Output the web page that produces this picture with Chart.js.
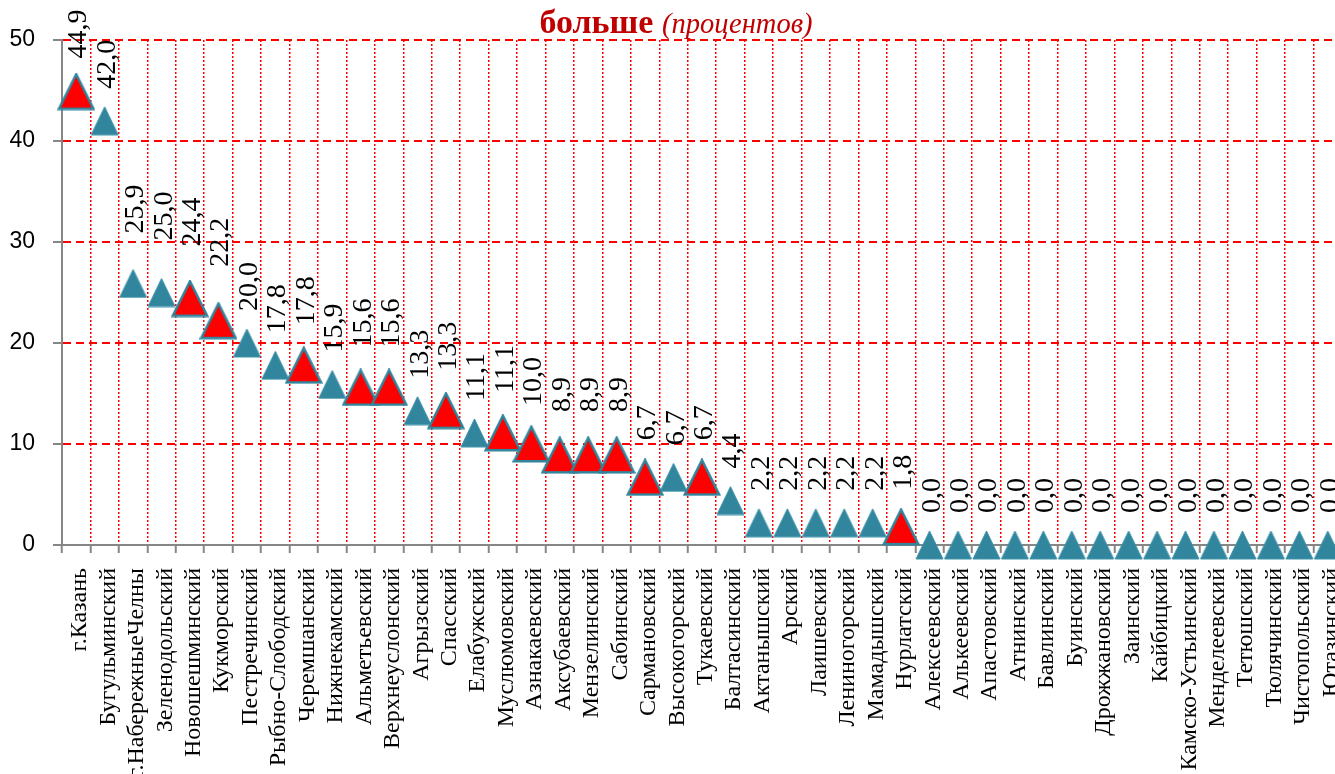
<!DOCTYPE html>
<html><head><meta charset="utf-8">
<script src="https://cdn.jsdelivr.net/npm/chart.js@4.4.0/dist/chart.umd.min.js"></script>
<style>
html,body{margin:0;padding:0;overflow:hidden;background:#fff;width:1335px;height:774px}
#wrap{position:absolute;left:0;top:0;width:1342px;height:774px}
</style></head><body>
<div id="wrap"><canvas id="c" width="1342" height="774" style="width:1342px;height:774px"></canvas></div>
<script>
const categories = ['г.Казань','Бугульминский','г.НабережныеЧелны','Зеленодольский','Новошешминский','Кукморский','Пестречинский','Рыбно-Слободский','Черемшанский','Нижнекамский','Альметьевский','Верхнеуслонский','Агрызский','Спасский','Елабужский','Муслюмовский','Азнакаевский','Аксубаевский','Мензелинский','Сабинский','Сармановский','Высокогорский','Тукаевский','Балтасинский','Актанышский','Арский','Лаишевский','Лениногорский','Мамадышский','Нурлатский','Алексеевский','Алькеевский','Апастовский','Атнинский','Бавлинский','Буинский','Дрожжановский','Заинский','Кайбицкий','Камско-Устьинский','Менделеевский','Тетюшский','Тюлячинский','Чистопольский','Ютазинский'];
const values = [44.9,42.0,25.9,25.0,24.4,22.2,20.0,17.8,17.8,15.9,15.6,15.6,13.3,13.3,11.1,11.1,10.0,8.9,8.9,8.9,6.7,6.7,6.7,4.4,2.2,2.2,2.2,2.2,2.2,1.8,0,0,0,0,0,0,0,0,0,0,0,0,0,0,0];
const highlighted = [1,0,0,0,1,1,0,0,1,0,1,1,0,1,0,1,1,1,1,1,1,0,1,0,0,0,0,0,0,1,0,0,0,0,0,0,0,0,0,0,0,0,0,0,0];
const yTicks = [0,10,20,30,40,50];
const titleBold = 'больше';
const titleItalic = '(процентов)';

const TEAL = '#31859C';
function triangle(w, h, fill, stroke, lw) {
  const c = document.createElement('canvas');
  c.width = w; c.height = h;
  const g = c.getContext('2d');
  const m = lw / 2 + 0.5;
  g.beginPath();
  g.moveTo(w / 2, m);
  g.lineTo(w - m, h - m);
  g.lineTo(m, h - m);
  g.closePath();
  g.fillStyle = fill; g.fill();
  if (lw > 0) { g.lineJoin = 'miter'; g.lineWidth = lw; g.strokeStyle = stroke; g.stroke(); }
  return c;
}
const redTri = triangle(38, 38, '#FF0000', TEAL, 2.5);
const tealTri = triangle(29, 30, TEAL, '#3C93AA', 1);

const fmt = v => v.toFixed(1).replace('.', ',');

const labelsPlugin = {
  id: 'customLabels',
  afterDatasetsDraw(chart, args, opts) {
    const ctx = chart.ctx;
    chart.data.datasets.forEach((ds, di) => {
      const meta = chart.getDatasetMeta(di);
      meta.data.forEach((pt, i) => {
        const v = ds.data[i];
        if (v === null || v === undefined) return;
        let lift = highlighted[i] ? opts.liftRed : opts.liftTeal;
        if (opts.liftOverride[i] !== undefined) lift = opts.liftOverride[i];
        ctx.save();
        ctx.translate(pt.x + 10, pt.y - lift);
        ctx.rotate(-Math.PI / 2);
        ctx.font = '28px "Liberation Serif", "Times New Roman", serif';
        ctx.fillStyle = '#000';
        ctx.textAlign = 'left';
        ctx.textBaseline = 'alphabetic';
        ctx.fillText(fmt(v), 0, 0);
        ctx.restore();
      });
    });
  },
  afterDraw(chart) {
    const ctx = chart.ctx;
    const xs = chart.scales.x;
    ctx.save();
    ctx.font = '24px "Liberation Serif", "Times New Roman", serif';
    ctx.fillStyle = '#000';
    ctx.textAlign = 'right';
    ctx.textBaseline = 'alphabetic';
    categories.forEach((c, i) => {
      const x = xs.getPixelForValue(i);
      ctx.save();
      ctx.translate(x + 10, 568);
      ctx.rotate(-Math.PI / 2);
      ctx.fillText(c, 0, 0);
      ctx.restore();
    });
    ctx.restore();
    // title
    ctx.save();
    ctx.fillStyle = '#C00000';
    ctx.textBaseline = 'alphabetic';
    ctx.textAlign = 'left';
    const fb = 'bold 34px "Liberation Serif", serif';
    const fi = 'italic 28.5px "Liberation Serif", serif';
    ctx.font = fb; const wb = ctx.measureText(titleBold + ' ').width;
    ctx.font = fi; const wi = ctx.measureText(titleItalic).width;
    let x0 = 676 - (wb + wi) / 2;
    ctx.font = fb; ctx.fillText(titleBold + ' ', x0, 33);
    ctx.font = fi; ctx.fillText(titleItalic, x0 + wb, 33);
    ctx.restore();
  }
};

new Chart(document.getElementById('c'), {
  type: 'line',
  data: {
    labels: categories,
    datasets: [
      { data: values.map((v, i) => highlighted[i] ? v : null), pointStyle: redTri, pointRadius: 12, showLine: false, clip: false },
      { data: values.map((v, i) => highlighted[i] ? null : v), pointStyle: tealTri, pointRadius: 10, showLine: false, clip: false }
    ]
  },
  options: {
    responsive: false,
    animation: false,
    events: [],
    layout: { autoPadding: false, padding: { top: 40, right: 0, bottom: 0, left: 0 } },
    plugins: {
      legend: { display: false }, tooltip: { enabled: false }, title: { display: false },
      customLabels: { liftRed: 40, liftTeal: 32, liftOverride: { 0: 33, 2: 50, 3: 52, 4: 52, 5: 54, 16: 38, 17: 43, 18: 43, 19: 43, 20: 37, 22: 37, 29: 37 } }
    },
    scales: {
      x: {
        offset: true,
        ticks: { display: false, autoSkip: false },
        grid: {
          offset: true,
          color: c => c.index === 0 ? 'rgba(0,0,0,0)' : '#FF0000',
          lineWidth: 1.5,
          tickColor: '#868686', tickWidth: 2, tickLength: 8, tickBorderDash: []
        },
        border: { color: '#868686', width: 2, dash: [2, 2] },
        afterFit: s => { s.height = 774 - 545; s.paddingLeft = 0; s.paddingRight = 0; }
      },
      y: {
        min: 0, max: 50,
        afterBuildTicks: s => { s.ticks = yTicks.map(v => ({ value: v })); },
        ticks: { font: { family: '"Liberation Sans"', size: 23 }, color: '#000', padding: 18 },
        grid: {
          color: c => (c.tick && c.tick.value === 0) ? 'rgba(0,0,0,0)' : '#FF0000',
          lineWidth: 2,
          tickColor: '#868686', tickWidth: 2, tickLength: 9, tickBorderDash: []
        },
        border: { color: '#868686', width: 2, dash: [8, 5] },
        afterFit: s => { s.width = 62; }
      }
    }
  },
  plugins: [labelsPlugin]
});
</script>
</body></html>
